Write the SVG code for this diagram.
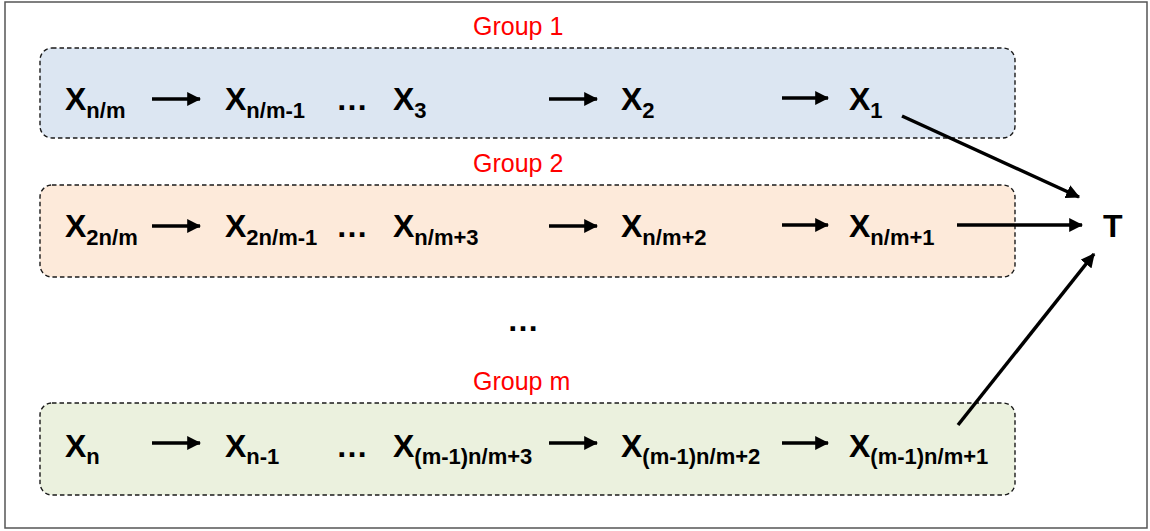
<svg xmlns="http://www.w3.org/2000/svg" width="1150" height="531" viewBox="0 0 1150 531">
  <style>
    .frame { fill: #ffffff; stroke: #555555; stroke-width: 1.5; }
    .grp { stroke: #1a1a1a; stroke-width: 1.4; stroke-dasharray: 4.5 3; }
    .g1 { fill: #dce6f2; }
    .g2 { fill: #fdeada; }
    .gm { fill: #ebf1de; }
    .label { font-family: "Liberation Sans", Arial, sans-serif; font-size: 25px; fill: #ff0000; }
    .var { font-family: "Liberation Sans", Arial, sans-serif; font-size: 32px; font-weight: bold; fill: #000000; }
    .sub { font-size: 22px; }
    .edge { stroke: #000000; stroke-width: 3.5; fill: none; marker-end: url(#head); }
  </style>
  <defs>
    <marker id="head" markerUnits="userSpaceOnUse" markerWidth="14" markerHeight="14" viewBox="0 0 12 12" refX="11" refY="6" orient="auto">
      <path d="M0,0 L12,6 L0,12 Z" fill="#000000"/>
    </marker>
  </defs>

  <rect class="frame" x="5" y="2" width="1142" height="526"/>

  <!-- Group 1 -->
  <g id="group1">
    <text class="label" x="473" y="35">Group 1</text>
    <rect class="grp g1" x="40" y="48" width="975" height="90" rx="12"/>
    <text class="var" x="65" y="110">X<tspan class="sub" dy="8">n/m</tspan></text>
    <text class="var" x="225" y="110">X<tspan class="sub" dy="8">n/m-1</tspan></text>
    <text class="var" x="336" y="110">…</text>
    <text class="var" x="393" y="110">X<tspan class="sub" dy="8">3</tspan></text>
    <text class="var" x="621" y="110">X<tspan class="sub" dy="8">2</tspan></text>
    <text class="var" x="849" y="110">X<tspan class="sub" dy="8">1</tspan></text>
  </g>

  <!-- Group 2 -->
  <g id="group2">
    <text class="label" x="473" y="172">Group 2</text>
    <rect class="grp g2" x="40" y="185" width="975" height="92" rx="12"/>
    <text class="var" x="65" y="237">X<tspan class="sub" dy="8">2n/m</tspan></text>
    <text class="var" x="225" y="237">X<tspan class="sub" dy="8">2n/m-1</tspan></text>
    <text class="var" x="336" y="237">…</text>
    <text class="var" x="393" y="237">X<tspan class="sub" dy="8">n/m+3</tspan></text>
    <text class="var" x="621" y="237">X<tspan class="sub" dy="8">n/m+2</tspan></text>
    <text class="var" x="849" y="237">X<tspan class="sub" dy="8">n/m+1</tspan></text>
  </g>

  <!-- gap between groups -->
  <g id="more-groups">
    <text class="var" x="507" y="331">…</text>
  </g>

  <!-- Group m -->
  <g id="groupm">
    <text class="label" x="473" y="390">Group m</text>
    <rect class="grp gm" x="40" y="403" width="975" height="92" rx="12"/>
    <text class="var" x="65" y="457">X<tspan class="sub" dy="7">n</tspan></text>
    <text class="var" x="225" y="457">X<tspan class="sub" dy="7">n-1</tspan></text>
    <text class="var" x="336" y="457">…</text>
    <text class="var" x="393" y="457">X<tspan class="sub" dy="7">(m-1)n/m+3</tspan></text>
    <text class="var" x="621" y="457">X<tspan class="sub" dy="7">(m-1)n/m+2</tspan></text>
    <text class="var" x="849" y="457">X<tspan class="sub" dy="7">(m-1)n/m+1</tspan></text>
  </g>

  <!-- Target -->
  <g id="target">
    <text class="var" x="1103" y="237">T</text>
  </g>

  <!-- Connectors -->
  <g id="connectors">
    <line class="edge" x1="152" y1="99" x2="200" y2="99"/>
    <line class="edge" x1="549" y1="99" x2="597" y2="99"/>
    <line class="edge" x1="782" y1="98" x2="828" y2="98"/>

    <line class="edge" x1="152" y1="226" x2="200" y2="226"/>
    <line class="edge" x1="549" y1="226" x2="597" y2="226"/>
    <line class="edge" x1="782" y1="225" x2="828" y2="225"/>

    <line class="edge" x1="152" y1="443" x2="200" y2="443"/>
    <line class="edge" x1="549" y1="443" x2="597" y2="443"/>
    <line class="edge" x1="782" y1="443" x2="828" y2="443"/>

    <line class="edge" x1="902" y1="116" x2="1079" y2="197"/>
    <line class="edge" x1="957" y1="225" x2="1082" y2="225"/>
    <line class="edge" x1="958" y1="425" x2="1094" y2="254"/>
  </g>
</svg>
